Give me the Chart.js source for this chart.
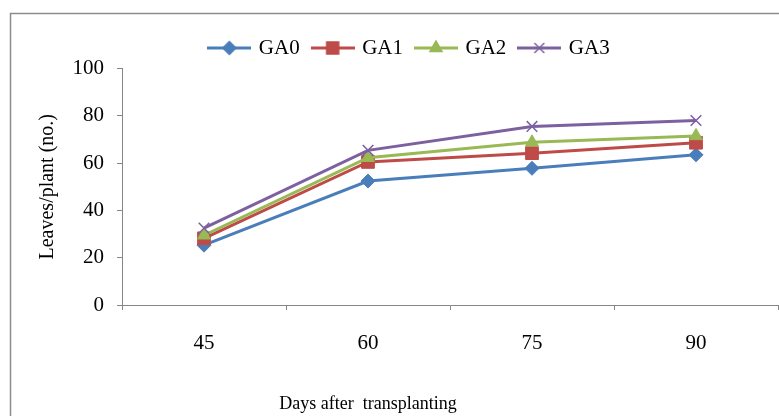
<!DOCTYPE html>
<html>
<head>
<meta charset="utf-8">
<script src="https://cdn.jsdelivr.net/npm/chart.js@4"></script>
<style>
  html, body { margin: 0; padding: 0; background: #fff; }
  #wrap { width: 779px; height: 416px; }
</style>
</head>
<body>
<div id="wrap"><canvas id="leafChart" width="779" height="416"></canvas></div>
<script>
// Days after transplanting
const days = ['45', '60', '75', '90'];
// Leaves per plant for each GA level
const ga0 = [25.3, 52.4, 57.8, 63.5];
const ga1 = [28.2, 60.5, 64.2, 68.6];
const ga2 = [29.5, 62.3, 68.8, 71.5];
const ga3 = [32.5, 65.4, 75.5, 78.0];
const yTicks = [0, 20, 40, 60, 80, 100];

const serif = 'Liberation Serif';
const axisGrey = '#868686';

const series = [
  { label: 'GA0', data: ga0, color: '#4A7EBB', style: 'rectRot', radius: 7 },
  { label: 'GA1', data: ga1, color: '#BE4B48', style: 'rect', radius: 9 },
  { label: 'GA2', data: ga2, color: '#98B954', style: 'triangle', radius: 7.5 },
  { label: 'GA3', data: ga3, color: '#7D60A0', style: 'crossRot', radius: 7.5 },
];

// small line+marker pictures for the legend
function legendImage(s) {
  const c = document.createElement('canvas');
  c.width = 44;
  c.height = 18;
  const ctx = c.getContext('2d');
  ctx.strokeStyle = s.color;
  ctx.fillStyle = s.color;
  ctx.lineWidth = 3;
  ctx.beginPath();
  ctx.moveTo(0, 9);
  ctx.lineTo(44, 9);
  ctx.stroke();
  ctx.lineWidth = 1.5;
  Chart.helpers.drawPoint(ctx, { pointStyle: s.style, radius: s.radius - 0.5, rotation: 0, borderWidth: 1.5 }, 22, 9);
  return c;
}
const legendImgs = series.map(legendImage);

// outer frame, cut off by the right and bottom edges like the picture
const framePlugin = {
  id: 'frame',
  beforeDraw(chart) {
    const ctx = chart.ctx;
    ctx.save();
    ctx.strokeStyle = '#8c8c8c';
    ctx.lineWidth = 1.5;
    ctx.strokeRect(10.5, 13.5, 800, 450);
    ctx.restore();
  }
};

// plot area runs right up to the edge in the original
const stretchPlugin = {
  id: 'stretch',
  afterLayout(chart) {
    const ca = chart.chartArea;
    const x = chart.scales.x;
    ca.right = chart.width - 1;
    ca.width = ca.right - ca.left;
    x.right = ca.right;
    x.width = ca.width;
    x.configure();
  }
};

// x axis title sits under the "60" column in the original
const xTitlePlugin = {
  id: 'xTitle',
  afterDraw(chart) {
    const ctx = chart.ctx;
    const x = chart.scales.x.getPixelForValue(1);
    ctx.save();
    ctx.font = '18px "' + serif + '"';
    ctx.fillStyle = '#000';
    ctx.textAlign = 'center';
    ctx.textBaseline = 'middle';
    ctx.fillText('Days after  transplanting', x, 404);
    ctx.restore();
  }
};

new Chart(document.getElementById('leafChart'), {
  type: 'line',
  data: {
    labels: days,
    datasets: series.map((s, i) => ({
      label: s.label,
      data: s.data,
      borderColor: s.color,
      backgroundColor: s.color,
      borderWidth: 3,
      pointStyle: s.style,
      pointRadius: s.radius,
      pointBorderWidth: s.style === 'crossRot' ? 1.5 : 1,
      pointBorderColor: s.color,
      pointBackgroundColor: s.color,
      tension: 0,
      fill: false,
      order: series.length - i,
    })),
  },
  options: {
    responsive: false,
    animation: false,
    layout: { padding: { left: 32, right: -9, top: 23.5, bottom: 0 } },
    plugins: {
      tooltip: { enabled: false },
      legend: {
        position: 'top',
        labels: {
          usePointStyle: true,
          pointStyleWidth: 38,
          padding: 14,
          color: '#000',
          font: { family: serif, size: 21 },
          generateLabels: (chart) => chart.data.datasets.map((ds, i) => ({
            text: ds.label,
            fillStyle: ds.borderColor,
            strokeStyle: ds.borderColor,
            lineWidth: 0,
            pointStyle: legendImgs[i],
            hidden: false,
            datasetIndex: i,
            fontColor: '#000',
          })),
        },
      },
    },
    scales: {
      x: {
        type: 'category',
        offset: true,
        grid: { offset: true, drawOnChartArea: false, drawTicks: true, tickLength: 5, color: axisGrey },
        border: { color: axisGrey, width: 1 },
        ticks: { color: '#000', padding: 21, font: { family: serif, size: 21 } },
        afterFit: (s) => { s.height = 111; },
      },
      y: {
        min: 0,
        max: 100,
        afterBuildTicks: (s) => { s.ticks = yTicks.map(v => ({ value: v })); },
        grid: { drawOnChartArea: false, tickLength: 5, color: axisGrey },
        border: { color: axisGrey, width: 1 },
        ticks: { color: '#000', padding: 13, font: { family: serif, size: 21 } },
        title: {
          display: true,
          text: 'Leaves/plant (no.)',
          color: '#000',
          font: { family: serif, size: 20 },
          padding: { top: 4, bottom: 0 },
        },
        afterFit: (s) => { s.width = 90; },
      },
    },
  },
  plugins: [framePlugin, stretchPlugin, xTitlePlugin],
});
</script>
</body>
</html>
